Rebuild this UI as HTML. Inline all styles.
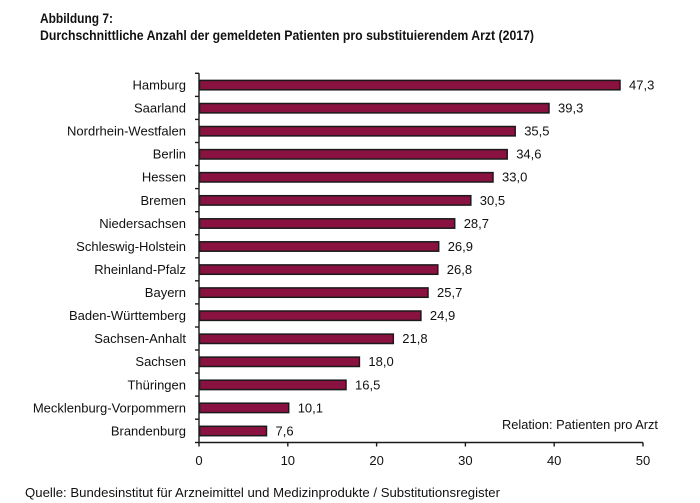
<!DOCTYPE html>
<html><head><meta charset="utf-8"><style>
html,body{margin:0;padding:0;background:#fff;}
svg{display:block;}
text{font-family:"Liberation Sans",Arial,sans-serif;fill:#111;}
</style></head><body>
<svg width="700" height="503" viewBox="0 0 700 503" xmlns="http://www.w3.org/2000/svg">
<text x="40" y="23" font-size="13.5" font-weight="bold" textLength="73" lengthAdjust="spacingAndGlyphs">Abbildung 7:</text>
<text x="40" y="40" font-size="13.5" font-weight="bold" textLength="494" lengthAdjust="spacingAndGlyphs">Durchschnittliche Anzahl der gemeldeten Patienten pro substituierendem Arzt (2017)</text>

<g stroke="#1a1a1a" stroke-width="1.4" fill="none">
<line x1="199" y1="73.3" x2="199" y2="442.5"/>
<line x1="199" y1="442.5" x2="643" y2="442.5"/>
<line x1="195" y1="73.3" x2="199" y2="73.3"/>
<line x1="195" y1="96.4" x2="199" y2="96.4"/>
<line x1="195" y1="119.4" x2="199" y2="119.4"/>
<line x1="195" y1="142.5" x2="199" y2="142.5"/>
<line x1="195" y1="165.5" x2="199" y2="165.5"/>
<line x1="195" y1="188.6" x2="199" y2="188.6"/>
<line x1="195" y1="211.7" x2="199" y2="211.7"/>
<line x1="195" y1="234.7" x2="199" y2="234.7"/>
<line x1="195" y1="257.8" x2="199" y2="257.8"/>
<line x1="195" y1="280.8" x2="199" y2="280.8"/>
<line x1="195" y1="303.9" x2="199" y2="303.9"/>
<line x1="195" y1="327.0" x2="199" y2="327.0"/>
<line x1="195" y1="350.0" x2="199" y2="350.0"/>
<line x1="195" y1="373.1" x2="199" y2="373.1"/>
<line x1="195" y1="396.1" x2="199" y2="396.1"/>
<line x1="195" y1="419.2" x2="199" y2="419.2"/>
<line x1="195" y1="442.5" x2="199" y2="442.5"/>
<line x1="199" y1="442.5" x2="199" y2="446.5"/>
<line x1="287.8" y1="442.5" x2="287.8" y2="446.5"/>
<line x1="376.6" y1="442.5" x2="376.6" y2="446.5"/>
<line x1="465.4" y1="442.5" x2="465.4" y2="446.5"/>
<line x1="554.2" y1="442.5" x2="554.2" y2="446.5"/>
<line x1="643" y1="442.5" x2="643" y2="446.5"/>
</g>

<g fill="#8A1241" stroke="#1a1a1a" stroke-width="1.5">
<rect x="199.5" y="80.4" width="420.5" height="9.4"/>
<rect x="199.5" y="103.5" width="349.5" height="9.4"/>
<rect x="199.5" y="126.5" width="315.7" height="9.4"/>
<rect x="199.5" y="149.6" width="307.7" height="9.4"/>
<rect x="199.5" y="172.6" width="293.5" height="9.4"/>
<rect x="199.5" y="195.7" width="271.3" height="9.4"/>
<rect x="199.5" y="218.8" width="255.2" height="9.4"/>
<rect x="199.5" y="241.8" width="239.2" height="9.4"/>
<rect x="199.5" y="264.9" width="238.3" height="9.4"/>
<rect x="199.5" y="287.9" width="228.5" height="9.4"/>
<rect x="199.5" y="311.0" width="221.4" height="9.4"/>
<rect x="199.5" y="334.1" width="193.8" height="9.4"/>
<rect x="199.5" y="357.1" width="159.9" height="9.4"/>
<rect x="199.5" y="380.2" width="146.5" height="9.4"/>
<rect x="199.5" y="403.2" width="89.2" height="9.4"/>
<rect x="199.5" y="426.3" width="67.0" height="9.4"/>
</g>

<g font-size="13" text-anchor="end">
<text x="186" y="89.5">Hamburg</text>
<text x="186" y="112.6">Saarland</text>
<text x="186" y="135.6">Nordrhein-Westfalen</text>
<text x="186" y="158.7">Berlin</text>
<text x="186" y="181.7">Hessen</text>
<text x="186" y="204.8">Bremen</text>
<text x="186" y="227.9">Niedersachsen</text>
<text x="186" y="250.9">Schleswig-Holstein</text>
<text x="186" y="274.0">Rheinland-Pfalz</text>
<text x="186" y="297.0">Bayern</text>
<text x="186" y="320.1">Baden-Württemberg</text>
<text x="186" y="343.2">Sachsen-Anhalt</text>
<text x="186" y="366.2">Sachsen</text>
<text x="186" y="389.3">Thüringen</text>
<text x="186" y="412.3">Mecklenburg-Vorpommern</text>
<text x="186" y="435.4">Brandenburg</text>
</g>

<g font-size="13">
<text x="629" y="89.5">47,3</text>
<text x="558" y="112.6">39,3</text>
<text x="524.2" y="135.6">35,5</text>
<text x="516.2" y="158.7">34,6</text>
<text x="502" y="181.7">33,0</text>
<text x="479.8" y="204.8">30,5</text>
<text x="463.7" y="227.9">28,7</text>
<text x="447.7" y="250.9">26,9</text>
<text x="446.8" y="274.0">26,8</text>
<text x="437" y="297.0">25,7</text>
<text x="429.9" y="320.1">24,9</text>
<text x="402.3" y="343.2">21,8</text>
<text x="368.4" y="366.2">18,0</text>
<text x="355" y="389.3">16,5</text>
<text x="297.7" y="412.3">10,1</text>
<text x="275.5" y="435.4">7,6</text>
</g>

<text x="502" y="429" font-size="13" textLength="156" lengthAdjust="spacingAndGlyphs">Relation: Patienten pro Arzt</text>

<g font-size="13" text-anchor="middle">
<text x="199" y="465">0</text>
<text x="287.8" y="465">10</text>
<text x="376.6" y="465">20</text>
<text x="465.4" y="465">30</text>
<text x="554.2" y="465">40</text>
<text x="643" y="465">50</text>
</g>

<text x="25" y="497" font-size="13" textLength="475" lengthAdjust="spacingAndGlyphs">Quelle: Bundesinstitut für Arzneimittel und Medizinprodukte / Substitutionsregister</text>
</svg>
</body></html>
